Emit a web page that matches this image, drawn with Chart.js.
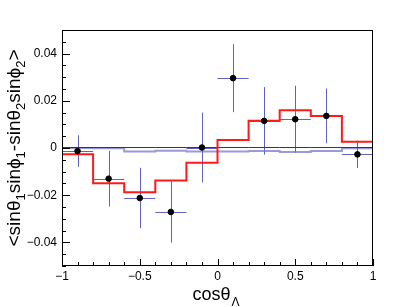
<!DOCTYPE html>
<html>
<head>
<meta charset="utf-8">
<script src="https://cdn.jsdelivr.net/npm/chart.js@4/dist/chart.umd.min.js"></script>
<style>
  html, body { margin: 0; padding: 0; background: #fff; }
  #wrap { width: 415px; height: 307px; }
</style>
</head>
<body>
<div id="wrap"><canvas id="myChart" width="415" height="307"></canvas></div>
<script>
// bins and values

const binEdges = [-1, -0.8, -0.6, -0.4, -0.2, 0, 0.2, 0.4, 0.6, 0.8, 1];
const binCenters = [-0.9, -0.7, -0.5, -0.3, -0.1, 0.1, 0.3, 0.5, 0.7, 0.9];
const binHalfWidth = 0.1;

const dataValues = [-0.0013, -0.0130, -0.0212, -0.0271, 0.0002, 0.0296, 0.0115, 0.0122, 0.0136, -0.0027];
const dataErrors = [0.0067, 0.0118, 0.0128, 0.0130, 0.0148, 0.0144, 0.0143, 0.0142, 0.0116, 0.0058];

const redHist = [-0.0027, -0.0149, -0.0187, -0.0138, -0.0062, 0.0034, 0.0115, 0.0160, 0.0136, 0.0027];
const darkBlueHist = [0.0002, 0.0002, 0.0002, 0.0002, 0.0002, 0.0002, 0.0002, 0.0002, 0.0002, 0.0002];
const lightBlueHist = [0.0000, -0.0001, -0.0015, -0.0012, -0.0015, -0.0015, -0.0013, -0.0017, -0.0013, -0.0001];

const xTicks = [-1, -0.5, 0, 0.5, 1];
const yTicks = [-0.04, -0.02, 0, 0.02, 0.04];
const xRange = [-1, 1];
const yRange = [-0.05, 0.05];

// helpers

function steps(vals, fromBottom) {
    let pts = vals.map((v, i) => ({x: binEdges[i], y: v}));
    pts.push({x: binEdges[vals.length], y: vals[vals.length - 1]});
    if (fromBottom) pts.unshift({x: binEdges[0], y: yRange[0]});
    return pts;
}

function fmt(v) {
    let s = String(Math.round(v * 1000) / 1000);
    return s.replace('-', '\u2212');
}

// frame, ticks, titles and error bars (root style)

const rootStyle = {
    id: 'rootStyle',
    beforeDatasetsDraw(chart) {
        const {ctx, scales: {x, y}} = chart;
        ctx.save();
        ctx.strokeStyle = 'rgba(45,45,175,0.75)';
        ctx.lineWidth = 1;
        binCenters.forEach((c, i) => {
            const px = Math.round(x.getPixelForValue(c)) + 0.5;
            const py = Math.round(y.getPixelForValue(dataValues[i])) + 0.5;
            ctx.beginPath();
            ctx.moveTo(px, y.getPixelForValue(dataValues[i] + dataErrors[i]));
            ctx.lineTo(px, y.getPixelForValue(dataValues[i] - dataErrors[i]));
            ctx.moveTo(x.getPixelForValue(c - binHalfWidth), py);
            ctx.lineTo(x.getPixelForValue(c + binHalfWidth), py);
            ctx.stroke();
        });
        ctx.restore();
    },
    afterDraw(chart) {
        const {ctx, chartArea: a, scales: {x, y}} = chart;
        ctx.save();
        ctx.strokeStyle = '#000';
        ctx.lineWidth = 1;
        ctx.strokeRect(a.left + 0.5, a.top + 0.5, a.right - a.left - 1, a.bottom - a.top - 1);

        // y ticks, major + minor
        ctx.beginPath();
        for (let k = -10; k <= 10; k++) {
            const v = k * 0.005;
            const py = Math.round(y.getPixelForValue(v)) + 0.5;
            const len = (k % 4 === 0) ? 8 : 4;
            ctx.moveTo(a.left, py);
            ctx.lineTo(a.left + len, py);
        }
        // x ticks
        for (let k = -10; k <= 10; k++) {
            const v = k * 0.1;
            const px = Math.round(x.getPixelForValue(v)) + 0.5;
            const len = (k % 5 === 0) ? 7 : 4;
            ctx.moveTo(px, a.bottom);
            ctx.lineTo(px, a.bottom - len);
        }
        ctx.stroke();

        // x title
        ctx.fillStyle = '#000';
        ctx.textBaseline = 'alphabetic';
        ctx.textAlign = 'left';
        const mainFont = '18px "Liberation Sans", Arial, sans-serif';
        const subFont = '12px "Liberation Sans", Arial, sans-serif';
        ctx.font = mainFont;
        const w1 = ctx.measureText('cos\u03b8').width;
        ctx.font = subFont;
        const w2 = ctx.measureText('\u039b').width;
        let tx = 216 - (w1 + w2 + 1) / 2;
        ctx.font = mainFont;
        ctx.fillText('cos\u03b8', tx, 300);
        ctx.font = subFont;
        ctx.fillText('\u039b', tx + w1 + 1, 306);

        // y title, rotated
        const parts = [['<sin\u03b8', 0], ['1', 1], ['sin\u03d5', 0], ['1', 1], ['-sin\u03b8', 0], ['2', 1], ['sin\u03d5', 0], ['2', 1], ['>', 0]];
        const yMain = '19px "Liberation Sans", Arial, sans-serif';
        const ySub = '13px "Liberation Sans", Arial, sans-serif';
        let total = 0;
        parts.forEach(p => { ctx.font = p[1] ? ySub : yMain; total += ctx.measureText(p[0]).width; });
        ctx.translate(20, 148);
        ctx.rotate(-Math.PI / 2);
        let cx = -total / 2;
        parts.forEach(p => {
            ctx.font = p[1] ? ySub : yMain;
            ctx.fillText(p[0], cx, p[1] ? 5 : 0);
            cx += ctx.measureText(p[0]).width;
        });
        ctx.restore();
    }
};

let myChart = document.getElementById('myChart').getContext('2d');

let histChart = new Chart(myChart, {
    type: 'scatter',
    data: {
        datasets: [{
            label: 'data',
            data: binCenters.map((c, i) => ({x: c, y: dataValues[i]})),
            backgroundColor: '#000',
            borderColor: '#000',
            pointRadius: 2.8,
            pointHoverRadius: 2.8,
            order: 0
        }, {
            label: 'red',
            data: steps(redHist, true),
            showLine: true,
            stepped: 'before',
            borderColor: '#ff1a1a',
            borderWidth: 2,
            pointRadius: 0,
            order: 1
        }, {
            label: 'dark blue',
            data: steps(darkBlueHist, false),
            showLine: true,
            stepped: 'before',
            borderColor: '#2a2aa6',
            borderWidth: 1,
            pointRadius: 0,
            order: 2
        }, {
            label: 'light blue',
            data: steps(lightBlueHist, false),
            showLine: true,
            stepped: 'before',
            borderColor: 'rgba(110,110,205,0.7)',
            borderWidth: 2,
            pointRadius: 0,
            order: 3
        }]
    },
    options: {
        responsive: false,
        animation: false,
        layout: { padding: { top: 30, right: 42, left: 0, bottom: 0 } },
        scales: {
            x: {
                type: 'linear',
                min: xRange[0],
                max: xRange[1],
                afterBuildTicks: s => { s.ticks = xTicks.map(v => ({value: v})); },
                afterFit: s => { s.height = 41; },
                ticks: {
                    callback: v => fmt(v),
                    autoSkip: false,
                    maxRotation: 0,
                    padding: 3,
                    color: '#000',
                    font: { size: 12, family: '"Liberation Sans", Arial, sans-serif' }
                },
                grid: { display: false, drawTicks: false },
                border: { display: false }
            },
            y: {
                type: 'linear',
                min: yRange[0],
                max: yRange[1],
                afterBuildTicks: s => { s.ticks = yTicks.map(v => ({value: v})); },
                afterFit: s => { s.width = 62; },
                ticks: {
                    callback: v => fmt(v),
                    padding: 5,
                    color: '#000',
                    font: { size: 12, family: '"Liberation Sans", Arial, sans-serif' }
                },
                grid: { display: false, drawTicks: false },
                border: { display: false }
            }
        },
        plugins: {
            legend: { display: false },
            tooltip: { enabled: false }
        }
    },
    plugins: [rootStyle]
});
</script>
</body>
</html>
